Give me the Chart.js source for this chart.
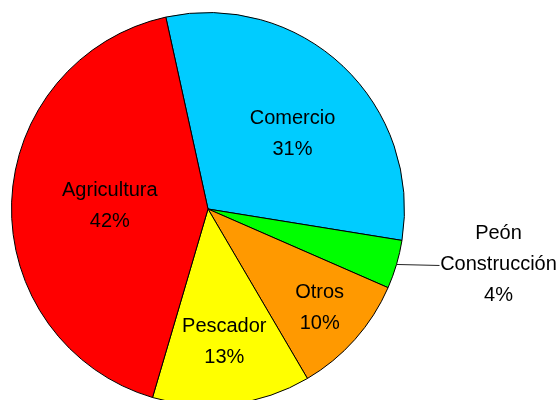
<!DOCTYPE html>
<html>
<head>
<meta charset="utf-8">
<script src="https://cdn.jsdelivr.net/npm/chart.js@4"></script>
<style>
    body { margin: 0; overflow: hidden; background: #fff; }
    #myChart { display: block; }
</style>
</head>
<body>
<canvas id="myChart" width="557" height="420"></canvas>
<script>
// sectors of work, share in percent
const categories = ["Comercio", "Peón Construcción", "Otros", "Pescador", "Agricultura"]
const values = [31, 4, 10, 13, 42]
const sliceColors = ["#00ccff", "#00ff00", "#ff9900", "#ffff00", "#ff0000"]

// where each label sits, as part of the radius (0 = outside with a leader line)
const labelRadius = [0.575, 0, 0.76, 0.68, 0.5]
// small turn of the label away from the slice middle, degrees
const labelTurn = [5, 0, 0, 0, 0]

const pieLabels = {
    id: "pieLabels",
    afterDatasetsDraw(chart) {
        const ctx = chart.ctx
        const arcs = chart.getDatasetMeta(0).data
        ctx.save()
        ctx.font = "20px 'Liberation Sans', Arial, sans-serif"
        ctx.fillStyle = "#000"
        ctx.textAlign = "center"
        ctx.textBaseline = "middle"
        arcs.forEach((arc, i) => {
            const { x, y, startAngle, endAngle, outerRadius } = arc.getProps(["x", "y", "startAngle", "endAngle", "outerRadius"], true)
            const mid = (startAngle + endAngle) / 2 + labelTurn[i] * Math.PI / 180
            const pct = values[i] + "%"
            if (labelRadius[i] > 0) {
                const lx = x + Math.cos(mid) * outerRadius * labelRadius[i]
                const ly = y + Math.sin(mid) * outerRadius * labelRadius[i]
                ctx.fillText(categories[i], lx, ly - 15.5)
                ctx.fillText(pct, lx, ly + 15.5)
            } else {
                const sx = x + Math.cos(mid) * outerRadius
                const sy = y + Math.sin(mid) * outerRadius
                const ex = sx + 43
                const ey = sy + 1
                ctx.strokeStyle = "#222"
                ctx.lineWidth = 1
                ctx.beginPath()
                ctx.moveTo(sx, sy)
                ctx.lineTo(ex, ey)
                ctx.stroke()
                const tx = ex + 59
                const words = categories[i].split(" ")
                ctx.fillText(words[0], tx, ey - 32)
                ctx.fillText(words[1], tx, ey - 1)
                ctx.fillText(pct, tx, ey + 30)
            }
        })
        ctx.restore()
    }
}

new Chart("myChart", {
    type: "pie",
    data: {
        labels: categories,
        datasets: [{
            data: values,
            backgroundColor: sliceColors,
            borderColor: "#000",
            borderWidth: 1
        }]
    },
    options: {
        responsive: false,
        animation: false,
        rotation: -12.4,
        layout: {
            padding: { left: 11, top: 12, right: 152, bottom: 14 }
        },
        plugins: {
            legend: { display: false },
            tooltip: { enabled: false }
        }
    },
    plugins: [pieLabels]
});
</script>
</body>
</html>
